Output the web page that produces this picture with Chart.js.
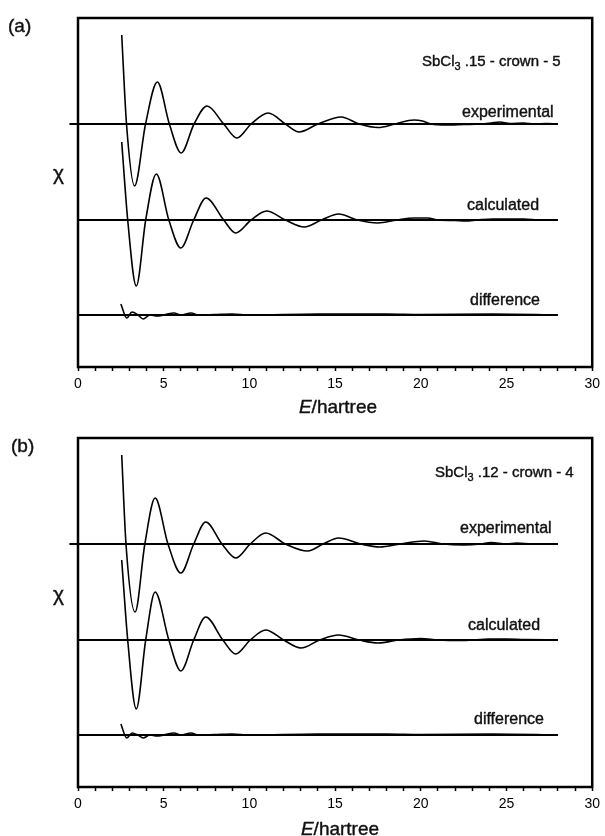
<!DOCTYPE html>
<html>
<head>
<meta charset="utf-8">
<script src="https://cdn.jsdelivr.net/npm/chart.js@4.4.1/dist/chart.umd.min.js"></script>
<style>
  html, body { margin: 0; padding: 0; background: #fff; }
  body { width: 605px; height: 836px; position: relative; overflow: hidden; font-family: "Liberation Sans", Arial, sans-serif; color: #111; }
  .panel { position: absolute; left: 0; width: 605px; height: 418px; }
  .lbl { position: absolute; white-space: nowrap; transform: translateY(-50%); line-height: 1; -webkit-text-stroke: 0.4px #111; }
  .note { font-size: 16px; }
  .title { font-size: 15px; }
  .title sub { font-size: 11px; vertical-align: -4px; }
  .tag { font-size: 19px; }
  .chi { font-size: 21px; }
  .axis-title { font-size: 19px; transform: translate(-50%, -50%); }
</style>
</head>
<body>
<div class="panel" style="top:0"><canvas id="chartA"></canvas></div>
<div class="panel" style="top:418px"><canvas id="chartB"></canvas></div>

<div class="lbl tag" style="left:8px;top:25px">(a)</div>
<div class="lbl chi" style="left:53px;top:172px">χ</div>
<div class="lbl title" style="left:422px;top:62px">SbCl<sub>3</sub> .15 - crown - 5</div>
<div class="lbl note" style="left:462px;top:112px">experimental</div>
<div class="lbl note" style="left:467px;top:205px">calculated</div>
<div class="lbl note" style="left:470px;top:300px">difference</div>
<div class="lbl axis-title" style="left:338px;top:406px"><i>E</i>/hartree</div>

<div class="lbl tag" style="left:11px;top:445px">(b)</div>
<div class="lbl chi" style="left:53px;top:593px">χ</div>
<div class="lbl title" style="left:435px;top:473px">SbCl<sub>3</sub> .12 - crown - 4</div>
<div class="lbl note" style="left:460px;top:528px">experimental</div>
<div class="lbl note" style="left:468px;top:625px">calculated</div>
<div class="lbl note" style="left:474px;top:719px">difference</div>
<div class="lbl axis-title" style="left:340px;top:828px"><i>E</i>/hartree</div>

<script>
// x axis: E / hartree
const xTickLabels = [0, 5, 10, 15, 20, 25, 30];
const xMinorTicks = Array.from({ length: 31 }, (_, i) => i);

// chi (arbitrary units), relative to each trace's own baseline
// (a) SbCl3.15-crown-5
const energyExpA = [2.55, 2.83, 3.3, 3.94, 4.63, 5.33, 6.02, 6.77, 7.53, 8.5, 9.27, 10.1, 11.1, 12.1, 12.9, 14.0, 15.35, 16.4, 17.5, 18.5, 19.6, 20.1, 20.6, 21.5, 22.5, 23.5, 24.1, 24.6, 25.2, 26.0, 26.6, 27.3, 28.0];
const chiExpA    = [89, 0, -62, 0, 42, 0, -29, 0, 18, 0, -14, 0, 11, 0, -8, 0, 7, 0, -3.5, 0, 4, 3, 0, -1, -0.5, 0, 1, 2, 0.5, 1, 0, 0.5, 0];
const energyCalcA = [2.55, 2.9, 3.4, 3.95, 4.57, 5.3, 6.0, 6.75, 7.47, 8.5, 9.2, 10.1, 11.0, 12.1, 13.2, 14.2, 15.2, 16.3, 17.5, 18.6, 19.6, 20.4, 21.0, 22.0, 22.6, 23.3, 24.2, 25.0, 26.0, 27.0, 28.0];
const chiCalcA    = [78, 0, -66, 0, 46, 0, -28, 0, 22, 0, -13, 0, 9, 0, -7, 0, 6, 0, -3, 0, 2, 2, 0, -0.5, -1, 0, 1, 1, 1, 0, 0];
const energyDiffA = [2.5, 2.85, 3.15, 3.5, 3.8, 4.2, 4.6, 5.0, 5.6, 6.0, 6.6, 7.0, 8.0, 9.0, 10.0, 14.0, 16.5, 18.0, 20.0, 24.2, 28.0];
const chiDiffA    = [11, -3, 3, 0, -4, 0, -1, 0, 2, 0, 2, 0, 0.5, 1, 0, 1, 1, 1, 0.5, 1, 0];

// (b) SbCl3.12-crown-4
const energyExpB = [2.55, 2.8, 3.33, 3.9, 4.5, 5.25, 6.0, 6.75, 7.45, 8.4, 9.2, 10.05, 10.95, 12.1, 13.4, 14.3, 15.2, 16.5, 17.6, 18.8, 20.2, 21.3, 22.5, 23.5, 24.1, 25.0, 25.6, 26.5, 28.0];
const chiExpB    = [89, 0, -68, 0, 46, 0, -29, 0, 22, 0, -14, 0, 11, 0, -7, 0, 6, 0, -3, 0, 3, 0, -1, 0, 1.5, 0, 1, 0, 0];
const energyCalcB = [2.55, 2.9, 3.4, 3.95, 4.5, 5.3, 6.0, 6.75, 7.45, 8.45, 9.2, 10.05, 10.95, 12.0, 13.0, 14.1, 15.2, 16.4, 17.5, 18.7, 20.0, 21.0, 22.5, 24.0, 25.0, 26.0, 28.0];
const chiCalcB    = [80, 0, -69, 0, 48, 0, -31, 0, 23, 0, -14, 0, 10, 0, -8, 0, 5, 0, -3, 0, 1.5, 0, -0.5, 1, 1, 0.5, 0];
const energyDiffB = [2.5, 2.85, 3.15, 3.5, 3.8, 4.2, 4.6, 5.0, 5.6, 6.0, 6.6, 7.0, 8.0, 9.0, 10.0, 14.0, 16.5, 18.0, 20.0, 24.2, 28.0];
const chiDiffB    = [11, -3, 2, 0, -3, 0, -1, 0, 2, 0, 2, 0, 0.5, 1, 0, 1, 1, 1, 0.5, 1, 0];

// vertical offsets of the three stacked traces (same arbitrary units)
const Y_MAX = 349;
const OFFSET_EXP = 243, OFFSET_CALC = 147, OFFSET_DIFF = 52;
const INK = '#000';

// box round the plot area
const framePlugin = {
    id: 'frame',
    afterDraw ( chart ) {
        const { ctx, chartArea: { left, top, right, bottom } } = chart;
        ctx.save();
        ctx.strokeStyle = INK;
        ctx.lineWidth = 2.5;
        ctx.strokeRect( left, top, right - left, bottom - top );
        ctx.restore();
    }
};

function trace ( xs, ys, offset ) {
    return {
        data: xs.map( ( x, i ) => ( { x, y: offset + ys[ i ] } ) ),
        borderColor: INK,
        borderWidth: 1.6,
        pointRadius: 0,
        cubicInterpolationMode: 'monotone',
        clip: false
    };
}

function baseline ( from, offset ) {
    return {
        data: [ { x: from, y: offset }, { x: 28, y: offset } ],
        borderColor: INK,
        borderWidth: 2,
        pointRadius: 0,
        clip: false
    };
}

function makePanel ( canvasId, series, padding ) {
    return new Chart( document.getElementById( canvasId ), {
        type: 'line',
        data: {
            datasets: [
                baseline( -0.5, OFFSET_EXP ),
                baseline( 0, OFFSET_CALC ),
                baseline( 0, OFFSET_DIFF ),
                trace( series.expX, series.expY, OFFSET_EXP ),
                trace( series.calcX, series.calcY, OFFSET_CALC ),
                trace( series.diffX, series.diffY, OFFSET_DIFF )
            ]
        },
        options: {
            responsive: true,
            maintainAspectRatio: false,
            animation: false,
            events: [],
            layout: { padding },
            plugins: { legend: { display: false }, tooltip: { enabled: false } },
            scales: {
                x: {
                    type: 'linear',
                    min: 0,
                    max: 30,
                    afterBuildTicks ( scale ) {
                        scale.ticks = xMinorTicks.map( v => ( { value: v } ) );
                    },
                    afterFit ( scale ) {
                        scale.height = 30;
                    },
                    ticks: {
                        autoSkip: false,
                        maxRotation: 0,
                        padding: 5,
                        color: INK,
                        font: { family: '"Liberation Sans", Arial, sans-serif', size: 14 },
                        callback: v => xTickLabels.includes( v ) ? String( v ) : ''
                    },
                    grid: {
                        drawOnChartArea: false,
                        drawTicks: true,
                        tickLength: 4,
                        tickColor: INK,
                        tickWidth: 1.5
                    },
                    border: { display: true, color: INK, width: 2 }
                },
                y: {
                    type: 'linear',
                    min: 0,
                    max: Y_MAX,
                    display: false
                }
            }
        },
        plugins: [ framePlugin ]
    } );
}

makePanel( 'chartA', {
    expX: energyExpA, expY: chiExpA,
    calcX: energyCalcA, calcY: chiCalcA,
    diffX: energyDiffA, diffY: chiDiffA
}, { left: 78, right: 10, top: 18, bottom: 21 } );

makePanel( 'chartB', {
    expX: energyExpB, expY: chiExpB,
    calcX: energyCalcB, calcY: chiCalcB,
    diffX: energyDiffB, diffY: chiDiffB
}, { left: 78, right: 10, top: 20, bottom: 19 } );
</script>
</body>
</html>
